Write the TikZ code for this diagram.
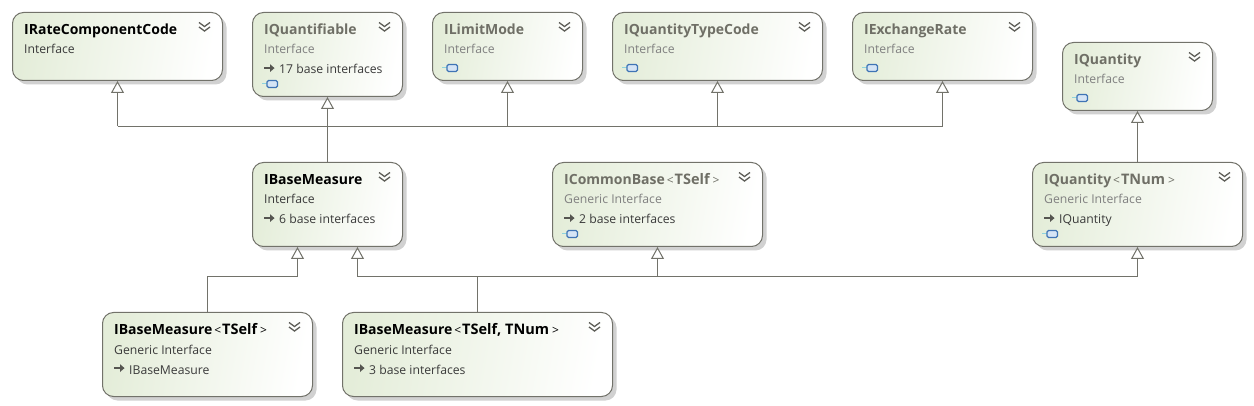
\documentclass[tikz,border=0pt]{standalone}
\usepackage{fontspec}
\setmainfont{Open Sans}
\usetikzlibrary{arrows.meta,shadows,calc}
\definecolor{edgec}{HTML}{72726A}
\definecolor{greenc}{HTML}{E4EDD9}
\definecolor{midgreen}{HTML}{F5F8F0}
\definecolor{titledim}{HTML}{6F6F66}
\definecolor{subdim}{HTML}{808080}
\definecolor{subdark}{HTML}{3A3A3A}
\definecolor{chevc}{HTML}{5E5E58}
\definecolor{pointc}{HTML}{555550}
\definecolor{iconedge}{HTML}{3F74B5}
\definecolor{iconfill}{HTML}{D5E4F5}
\definecolor{iconstub}{HTML}{8FD3DE}
\tikzset{
  x=1pt,y=-1pt,
  umlbox/.style={draw=edgec,line width=1pt,rounded corners=11pt,
    shading=axis,left color=greenc,middle color=midgreen,right color=white,shading angle=80,
    drop shadow={shadow xshift=4pt,shadow yshift=-4pt,fill=black!18,opacity=1},
    anchor=north west,inner sep=0pt},
  titletext/.style={anchor=base west,inner sep=0pt,font=\fontsize{14}{16}\selectfont\bfseries},
  subtext/.style={anchor=base west,inner sep=0pt,font=\fontsize{12.2}{14}\selectfont},
  link/.style={draw=edgec,line width=1pt},
  inherit/.style={link,{Triangle[open,fill=white,length=12pt,width=13pt]}-},
  chev/.style={draw=chevc,line width=1.3pt},
}
% name, left, top, width, height, title, subtitle, title colour, subtitle colour
\newcommand{\umlnode}[9]{%
  \node[umlbox,minimum width=#4pt,minimum height=#5pt] (#1) at (#2,#3) {};
  \node[titletext,text=#8] (#1-title) at ($(#2,#3)+(12,22.5)$) {#6};
  \node[subtext,text=#9] (#1-sub) at ($(#2,#3)+(12,42)$) {#7};
  \draw[chev] ($(#2,#3)+(#4,0)+(-23,10.5)$) -- ++(5.5,4) -- ++(5.5,-4)
              ($(#2,#3)+(#4,0)+(-23,15)$) -- ++(5.5,4) -- ++(5.5,-4);
}
% third line: base arrow plus text
\newcommand{\baseitem}[5]{%
  \node[subtext,text=#5] (#1-base) at ($(#2,#3)+(27,62)$) {#4};
  \fill[pointc] ($(#2,#3)+(12,55.2)$) rectangle ++(7,1.8);
  \fill[pointc] ($(#2,#3)+(18,52.2)$) -- ++(4.5,3.9) -- ++(-4.5,3.9) -- cycle;
}
% lollipop icon
\newcommand{\iconat}[2]{%
  \draw[iconstub,line width=1pt] ($(#1,#2)+(10,72)$) -- ++(5,0);
  \draw[iconedge,fill=iconfill,line width=1.1pt,rounded corners=1.5pt] ($(#1,#2)+(15,68.5)$) rectangle ++(10.5,7);
}
\newcommand{\gen}[1]{{\fontsize{12}{14}\mdseries\selectfont\,<\hspace{1pt}}{\fontsize{14.5}{16}\selectfont #1}{\fontsize{12}{14}\mdseries\selectfont\hspace{1pt}\,>}}
\begin{document}
\begin{tikzpicture}
\useasboundingbox (0,0) rectangle (1254,406);
\fill[white] (0,0) rectangle (1254,406);
\umlnode{rate}{12}{12}{210}{68}{IRateComponentCode}{Interface}{black}{subdark}
\umlnode{quantifiable}{252}{12}{150}{84}{IQuantifiable}{Interface}{titledim}{subdim}
\umlnode{limit}{432}{12}{150}{68}{ILimitMode}{Interface}{titledim}{subdim}
\umlnode{typecode}{612}{12}{210}{68}{IQuantityTypeCode}{Interface}{titledim}{subdim}
\umlnode{exchange}{852}{12}{180}{68}{IExchangeRate}{Interface}{titledim}{subdim}
\umlnode{quantity}{1062}{42}{150}{68}{IQuantity}{Interface}{titledim}{subdim}
\umlnode{basemeasure}{252}{162}{150}{84}{IBaseMeasure}{Interface}{black}{subdark}
\umlnode{commonbase}{552}{162}{210}{84}{ICommonBase\gen{TSelf}}{Generic Interface}{titledim}{subdim}
\umlnode{quantitynum}{1032}{162}{210}{84}{IQuantity\gen{TNum}}{Generic Interface}{titledim}{subdim}
\umlnode{bmself}{102}{312}{210}{84}{IBaseMeasure\gen{TSelf}}{Generic Interface}{black}{subdark}
\umlnode{bmselfnum}{342}{312}{270}{84}{IBaseMeasure\gen{TSelf, TNum}}{Generic Interface}{black}{subdark}
\baseitem{quantifiable}{252}{12}{17 base interfaces}{subdark}
\baseitem{basemeasure}{252}{162}{6 base interfaces}{subdark}
\baseitem{commonbase}{552}{162}{2 base interfaces}{subdark}
\baseitem{quantitynum}{1032}{162}{IQuantity}{subdark}
\baseitem{bmself}{102}{312}{IBaseMeasure}{subdark}
\baseitem{bmselfnum}{342}{312}{3 base interfaces}{subdark}
\iconat{252}{12}
\iconat{432}{-4}
\iconat{612}{-4}
\iconat{852}{-4}
\iconat{1062}{26}
\iconat{552}{162}
\iconat{1032}{162}
% connectors
\path (0,126.5) coordinate (upbus);
\path (0,276.5) coordinate (lowbus);
\draw[link] (rate.south |- upbus) -- (exchange.south |- upbus);
\draw[inherit] (rate.south) -- (rate.south |- upbus);
\draw[inherit] (quantifiable.south) -- (basemeasure.north);
\draw[inherit] (limit.south) -- (limit.south |- upbus);
\draw[inherit] (typecode.south) -- (typecode.south |- upbus);
\draw[inherit] (exchange.south) -- (exchange.south |- upbus);
\draw[inherit] (quantity.south) -- (quantitynum.north);
\coordinate (bmleft) at ($(basemeasure.south)+(-30,0)$);
\coordinate (bmright) at ($(basemeasure.south)+(30,0)$);
\draw[inherit] (bmleft) -- (bmleft |- lowbus) -- (bmself.north |- lowbus) -- (bmself.north);
\draw[inherit] (bmright) -- (bmright |- lowbus) -- (quantitynum.south |- lowbus);
\draw[inherit] (commonbase.south) -- (commonbase.south |- lowbus);
\draw[inherit] (quantitynum.south) -- (quantitynum.south |- lowbus);
\draw[link] (bmselfnum.north) -- (bmselfnum.north |- lowbus);
\end{tikzpicture}
\end{document}
